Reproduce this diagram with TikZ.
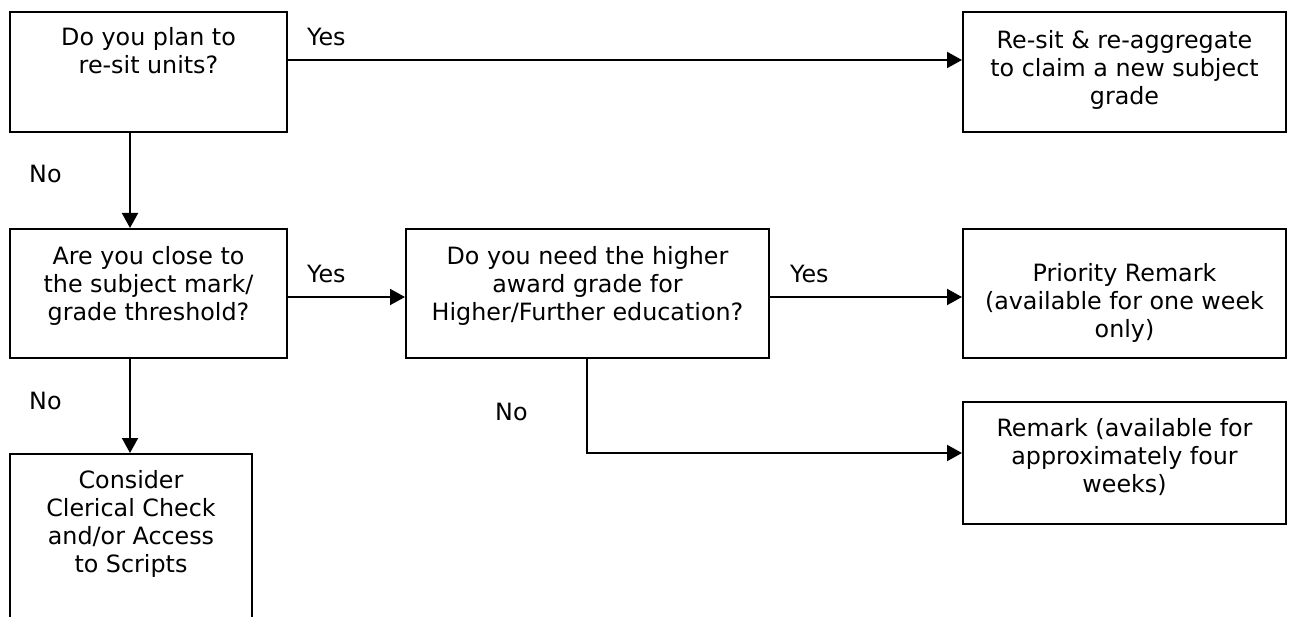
\documentclass[tikz,border=0pt]{standalone}
\usepackage{fontspec}
\setmainfont{DejaVu Sans}
\usetikzlibrary{arrows.meta}

% box text: width, height, top gap, lines
\newcommand{\boxtext}[4]{\parbox[c][#2][t]{#1}{\centering\vspace*{#3}#4\par}}

\begin{document}
\begin{tikzpicture}[x=1pt, y=-1pt,
  qbox/.style = {draw, line width=2pt, inner sep=0pt, anchor=north west,
    font=\fontsize{23.8}{28}\selectfont},
  lbl/.style = {inner sep=0pt, anchor=west, font=\fontsize{23.8}{28}\selectfont},
  arr/.style = {line width=2pt, -{Triangle[length=15pt,width=16pt]}}]
  \useasboundingbox (0,0) rectangle (1296,617);
  \fill[white] (0,0) rectangle (1296,617);
  \clip (0,0) rectangle (1296,617);

  % questions
  \node (A) [qbox] at (9,11)
    {\boxtext{277pt}{120pt}{15pt}{Do you plan to\\re-sit units?}};
  \node (C) [qbox] at (9,228)
    {\boxtext{277pt}{129pt}{17pt}{Are you close to\\the subject mark/\\grade threshold?}};
  \node (D) [qbox] at (405,228)
    {\boxtext{363pt}{129pt}{17pt}{Do you need the higher\\award grade for\\Higher/Further education?}};

  % outcomes
  \node (B) [qbox] at (962,11)
    {\boxtext{323pt}{120pt}{18pt}{Re-sit \& re-aggregate\\to claim a new subject\\grade}};
  \node (E) [qbox] at (962,228)
    {\boxtext{323pt}{129pt}{34pt}{Priority Remark\\(available for one week\\only)}};
  \node (F) [qbox] at (962,401)
    {\boxtext{323pt}{122pt}{16pt}{Remark (available for\\approximately four\\weeks)}};
  \node (G) [qbox] at (9,453)
    {\boxtext{242pt}{220pt}{16pt}{Consider\\Clerical Check\\and/or Access\\to Scripts}};

  % connectors
  \draw[arr] ([yshift=-49pt]A.north east) -- ([yshift=-49pt]B.north west);
  \draw[arr] ([xshift=121pt]A.south west) -- ([xshift=121pt]C.north west);
  \draw[arr] ([yshift=-69pt]C.north east) -- ([yshift=-69pt]D.north west);
  \draw[arr] ([xshift=121pt]C.south west) -- ([xshift=121pt]G.north west);
  \draw[arr] ([yshift=-69pt]D.north east) -- ([yshift=-69pt]E.north west);
  \draw[arr] ([xshift=182pt]D.south west) |- ([yshift=-52pt]F.north west);

  % labels
  \node (yesAB) [lbl] at ([xshift=19pt, yshift=-26pt]A.north east) {Yes};
  \node (noAC)  [lbl] at ([xshift=20pt, yshift=-41pt]A.south west) {No};
  \node (yesCD) [lbl] at ([xshift=19pt, yshift=-46pt]C.north east) {Yes};
  \node (noCG)  [lbl] at ([xshift=20pt, yshift=-42pt]C.south west) {No};
  \node (yesDE) [lbl] at ([xshift=20pt, yshift=-46pt]D.north east) {Yes};
  \node (noDF)  [lbl] at ([xshift=90pt, yshift=-53pt]D.south west) {No};
\end{tikzpicture}
\end{document}
